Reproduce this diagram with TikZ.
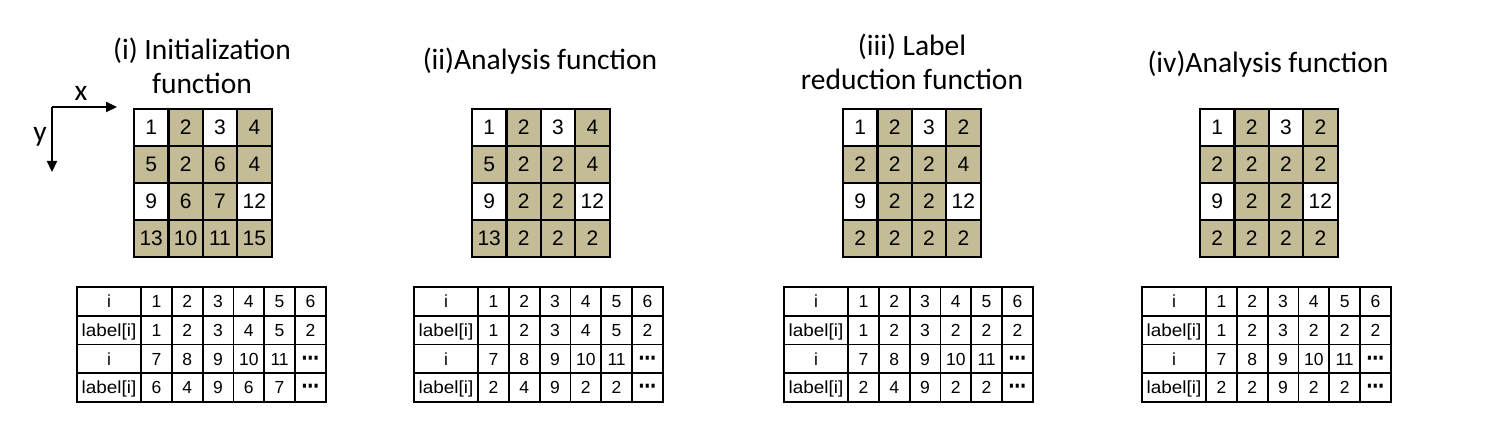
\documentclass[tikz,border=0pt]{standalone}
\usepackage{fontspec}
\setmainfont{Carlito}
\newfontfamily\numfont{Liberation Sans}
\newfontfamily\dejafont{DejaVu Sans}
\usetikzlibrary{arrows.meta}
\definecolor{tanc}{HTML}{C4BC97}
\newcommand\lblx{\scalebox{1.08}[1]{label[i]}}
\newcommand\dtsx{{\dejafont\bfseries\scalebox{1.0}[1.2]{⋯}}}
\tikzset{
  title/.style={font=\fontsize{29.5}{34}\selectfont, align=center, inner sep=0pt},
  gcell/.style={draw=black, line width=2.2pt, minimum width=34.4pt, minimum height=37pt, inner sep=0pt, text height=15pt, text depth=0pt, font=\numfont\fontsize{21}{22}\selectfont},
  tcell/.style={draw=black, line width=1.8pt, minimum height=28.7pt, inner sep=0pt, text height=12.5pt, text depth=0pt, font=\numfont\fontsize{17.5}{18}\selectfont},
  axis/.style={line width=2.2pt, -{Triangle[length=11pt,width=10pt]}}
}
\newcommand\drawgrid[3]{%
  \foreach \row [count=\r] in {#3} {
    \foreach \v [count=\c] in \row {
      \pgfmathtruncatemacro\w{or(and(\r==1,mod(\c,2)==1),and(\r==3,or(\c==1,\c==4)))}
      \ifnum\w=1 \def\fc{white}\else\def\fc{tanc}\fi
      \node[gcell, fill=\fc] (#1-\r-\c) at ({#2+(\c-0.5)*34.4}, {109+(\r-0.5)*37}) {\v};
    }
  }
}
\newcommand\drawtable[4]{%
  \foreach \row [count=\r] in {{i,1,2,3,4,5,6},{\lblx,#3},{i,7,8,9,10,11,\dtsx},{\lblx,#4}} {
    \foreach \v [count=\c] in \row {
      \ifnum\c=1
        \node[tcell, minimum width=64pt] (#1-\r-\c) at ({#2+32}, {287+(\r-0.5)*28.7}) {\v};
      \else
        \node[tcell, minimum width=30.8pt] (#1-\r-\c) at ({#2+64+(\c-1.5)*30.8}, {287+(\r-0.5)*28.7}) {\v};
      \fi
    }
  }
}
\begin{document}
\begin{tikzpicture}[x=1pt, y=-1pt]
\useasboundingbox (0,0) rectangle (1493,430);
% axes
\coordinate (o) at (52,107);
\coordinate (xe) at (117,107);
\coordinate (ye) at (52,172);
\draw[axis] (o) -- (xe);
\draw[axis] (o) -- (ye);
\node[title] (xl) at (81,93) {x};
\node[title] (yl) at (40,137) {y};
% titles
\node[title] (t1) at (202,66) {(i) Initialization\\function};
\node[title] (t2) at (540,61) {(ii)Analysis function};
\node[title] (t3) at (912,62) {(iii) Label\\reduction function};
\node[title] (t4) at (1268,64) {(iv)Analysis function};
% grids
\drawgrid{ga}{134}{{1,2,3,4},{5,2,6,4},{9,6,7,12},{13,10,11,15}}
\drawgrid{gb}{472}{{1,2,3,4},{5,2,2,4},{9,2,2,12},{13,2,2,2}}
\drawgrid{gc}{843}{{1,2,3,2},{2,2,2,4},{9,2,2,12},{2,2,2,2}}
\drawgrid{gd}{1200}{{1,2,3,2},{2,2,2,2},{9,2,2,12},{2,2,2,2}}
% tables
\drawtable{ta}{77}{1,2,3,4,5,2}{6,4,9,6,7,\dtsx}
\drawtable{tb}{414}{1,2,3,4,5,2}{2,4,9,2,2,\dtsx}
\drawtable{tc}{784}{1,2,3,2,2,2}{2,4,9,2,2,\dtsx}
\drawtable{td}{1142}{1,2,3,2,2,2}{2,2,9,2,2,\dtsx}
\end{tikzpicture}
\end{document}
